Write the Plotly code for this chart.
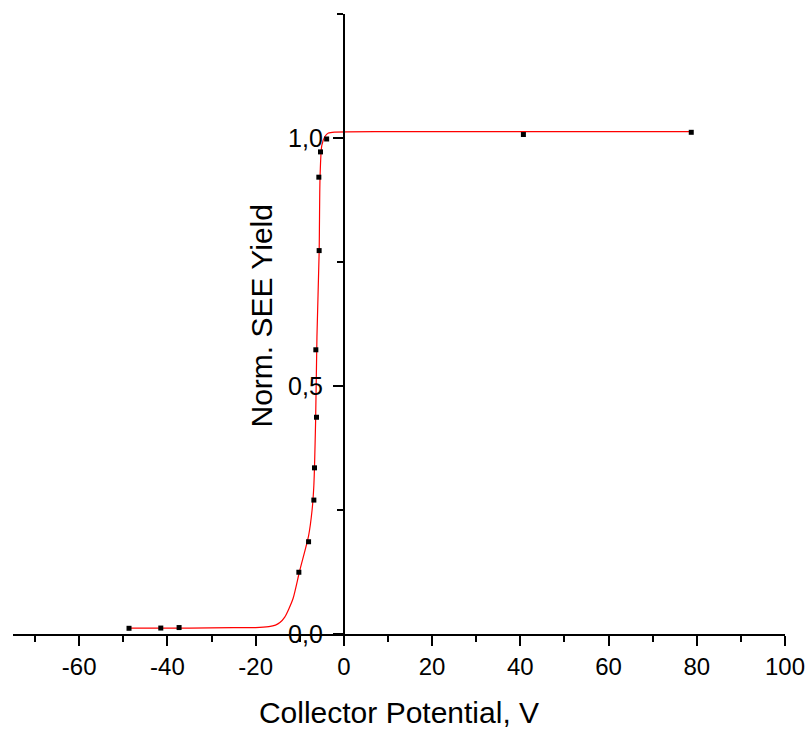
import plotly.graph_objects as go

# Measured secondary-electron-emission yield vs. collector potential
potential_v = [-48.7, -41.5, -37.35, -10.2, -8.0, -6.8, -6.65, -6.2, -6.35,
               -5.6, -5.67, -5.3, -3.9, 40.7, 78.75]
norm_yield = [0.0115, 0.012, 0.013, 0.1245, 0.186, 0.27, 0.335, 0.437, 0.573,
              0.773, 0.921, 0.972, 0.998, 1.007, 1.0115]

# Fitted curve, sampled along its trace
fit_v = [-48.7, -35.0, -25.0, -20.0, -17.0, -15.5, -14.5, -13.4, -12.5, -11.5,
         -10.0, -8.0, -7.2, -6.8, -6.4, -6.1, -5.6, -5.4, -5.0, -4.3, -3.5,
         -2.0, 10.0, 78.75]
fit_yield = [0.012, 0.012, 0.013, 0.013, 0.015, 0.018, 0.023, 0.034, 0.05, 0.072,
             0.128, 0.198, 0.25, 0.3, 0.43, 0.6, 0.77, 0.92, 0.985, 1.003, 1.01,
             1.012, 1.013, 1.013]

x_tick_vals = [-60, -40, -20, 0, 20, 40, 60, 80, 100]
x_tick_text = ["-60", "-40", "-20", "0", "20", "40", "60", "80", "100"]
x_minor_vals = [-70, -50, -30, -10, 10, 30, 50, 70, 90]
y_tick_vals = [0.0, 0.5, 1.0]
y_tick_text = ["0,0", "0,5", "1,0"]
y_minor_vals = [0.25, 0.75, 1.25]

X_RANGE = [-75, 100]
Y_RANGE = [0, 1.25]
FONT = "Arial, 'Liberation Sans', sans-serif"

fig = go.Figure()
fig.add_trace(go.Scatter(
    x=fit_v, y=fit_yield, mode="lines",
    line=dict(color="#ff0000", width=1.2, shape="spline", smoothing=0.7),
    hoverinfo="skip", showlegend=False,
))
fig.add_trace(go.Scatter(
    x=potential_v, y=norm_yield, mode="markers",
    marker=dict(symbol="square", size=5, color="#000000"),
    showlegend=False,
))

# the vertical axis crosses the horizontal one at V = 0
y_axis_pos = (0 - X_RANGE[0]) / (X_RANGE[1] - X_RANGE[0])

fig.update_layout(
    width=808, height=729,
    margin=dict(l=13, r=23, t=14, b=95, autoexpand=False),
    paper_bgcolor="white", plot_bgcolor="white",
    font=dict(family=FONT, color="black"),
    xaxis=dict(
        range=X_RANGE, showgrid=False, zeroline=False, automargin=False,
        showline=True, linecolor="black", linewidth=2,
        ticks="outside", ticklen=10, tickwidth=2, tickcolor="black",
        tickmode="array", tickvals=x_tick_vals, ticktext=x_tick_text,
        tickfont=dict(size=24, family=FONT, color="black"),
        minor=dict(tickmode="array", tickvals=x_minor_vals, ticks="outside",
                   ticklen=6, tickwidth=2, tickcolor="black", showgrid=False),
        title=dict(text="Collector Potential, V",
                   font=dict(size=30, family=FONT, color="black"), standoff=26),
    ),
    yaxis=dict(
        range=Y_RANGE, showgrid=False, zeroline=False, automargin=False,
        anchor="free", position=y_axis_pos,
        showline=True, linecolor="black", linewidth=2,
        ticks="outside", ticklen=10, tickwidth=2, tickcolor="black",
        tickmode="array", tickvals=y_tick_vals, ticktext=y_tick_text,
        tickfont=dict(size=25, family=FONT, color="black"),
        ticklabelstandoff=5,
        minor=dict(tickmode="array", tickvals=y_minor_vals, ticks="outside",
                   ticklen=6, tickwidth=2, tickcolor="black", showgrid=False),
    ),
    annotations=[dict(
        text="Norm. SEE Yield", textangle=-90, showarrow=False,
        xref="paper", yref="paper", x=(261 - 13) / 772, y=(634 - 316.5) / 620,
        xanchor="center", yanchor="middle",
        font=dict(size=30, family=FONT, color="black"),
    )],
)

fig.write_html("out.html")
